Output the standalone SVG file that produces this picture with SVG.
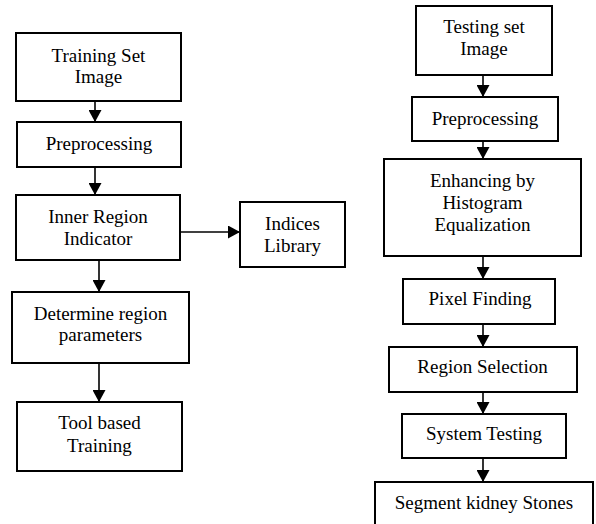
<svg xmlns="http://www.w3.org/2000/svg" width="596" height="524" viewBox="0 0 596 524">
<style>
.box{fill:#fff;stroke:#000;stroke-width:2}
.t{font-family:"Liberation Serif","Times New Roman",serif;font-size:19px;fill:#000;text-anchor:middle}
.c{stroke:#000;stroke-width:1.6;fill:none;marker-end:url(#ah)}
</style>
<defs>
<marker id="ah" viewBox="0 0 12 13" refX="12" refY="6.5" markerWidth="12" markerHeight="13" markerUnits="userSpaceOnUse" orient="auto">
<path d="M0,0 L12,6.5 L0,13 z" fill="#000"/>
</marker>
</defs>
<rect width="596" height="524" fill="#fff"/>
<g id="connectors">
<line class="c" x1="95" y1="101" x2="95" y2="122"/>
<line class="c" x1="95" y1="167" x2="95" y2="195"/>
<line class="c" x1="180" y1="232" x2="240" y2="232"/>
<line class="c" x1="99" y1="260" x2="99" y2="292"/>
<line class="c" x1="99" y1="363" x2="99" y2="402"/>
<line class="c" x1="483" y1="75" x2="483" y2="97"/>
<line class="c" x1="483" y1="141" x2="483" y2="159"/>
<line class="c" x1="483" y1="256" x2="483" y2="279"/>
<line class="c" x1="483" y1="324" x2="483" y2="347"/>
<line class="c" x1="483" y1="392" x2="483" y2="414"/>
<line class="c" x1="483" y1="458" x2="483" y2="482"/>
</g>
<g id="training-set">
<rect class="box" x="16" y="33" width="165" height="68"/>
<text class="t" x="98.5" y="62">Training Set</text>
<text class="t" x="98.5" y="83">Image</text>
</g>
<g id="preprocessing-left">
<rect class="box" x="17" y="122" width="164" height="45"/>
<text class="t" x="99" y="150">Preprocessing</text>
</g>
<g id="inner-region">
<rect class="box" x="16" y="195" width="164" height="65"/>
<text class="t" x="98" y="223">Inner Region</text>
<text class="t" x="98" y="245">Indicator</text>
</g>
<g id="indices-library">
<rect class="box" x="240" y="202" width="105" height="65"/>
<text class="t" x="292.5" y="230">Indices</text>
<text class="t" x="292.5" y="252">Library</text>
</g>
<g id="determine-region">
<rect class="box" x="12" y="292" width="177" height="71"/>
<text class="t" x="100.5" y="320">Determine region</text>
<text class="t" x="100.5" y="341">parameters</text>
</g>
<g id="tool-training">
<rect class="box" x="17" y="402" width="165" height="69"/>
<text class="t" x="99.5" y="429">Tool based</text>
<text class="t" x="99.5" y="452">Training</text>
</g>
<g id="testing-set">
<rect class="box" x="416" y="6" width="136" height="69"/>
<text class="t" x="484" y="33">Testing set</text>
<text class="t" x="484" y="55">Image</text>
</g>
<g id="preprocessing-right">
<rect class="box" x="412" y="97" width="146" height="44"/>
<text class="t" x="485" y="125">Preprocessing</text>
</g>
<g id="enhancing">
<rect class="box" x="384" y="159" width="197" height="97"/>
<text class="t" x="482.5" y="187">Enhancing by</text>
<text class="t" x="482.5" y="209">Histogram</text>
<text class="t" x="482.5" y="231">Equalization</text>
</g>
<g id="pixel-finding">
<rect class="box" x="403" y="279" width="152" height="45"/>
<text class="t" x="480" y="305">Pixel Finding</text>
</g>
<g id="region-selection">
<rect class="box" x="389" y="347" width="188" height="45"/>
<text class="t" x="482.5" y="373">Region Selection</text>
</g>
<g id="system-testing">
<rect class="box" x="402" y="414" width="164" height="44"/>
<text class="t" x="484" y="440">System Testing</text>
</g>
<g id="segment-stones">
<rect class="box" x="375" y="482" width="218" height="50"/>
<text class="t" x="484" y="509">Segment kidney Stones</text>
</g>
</svg>
